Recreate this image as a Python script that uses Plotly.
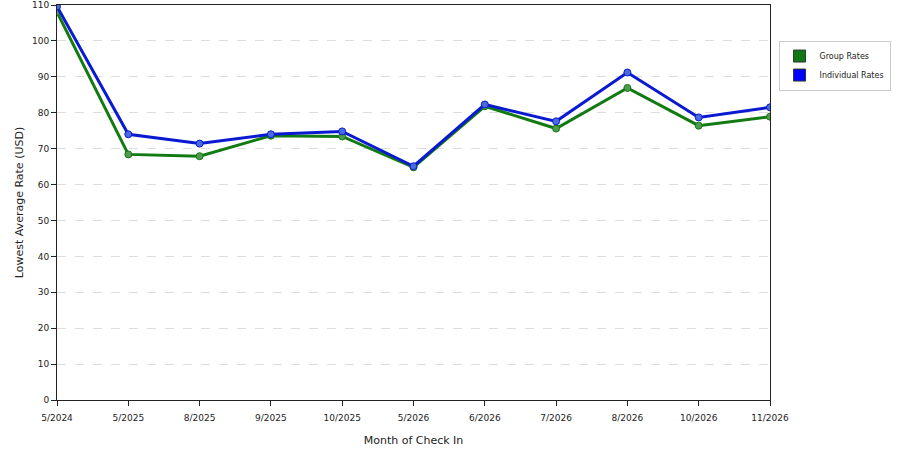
#!/usr/bin/env python3
# lowest average rate by check-in month

import plotly.graph_objects as go

# --- data ---
months = ["5/2024", "5/2025", "8/2025", "9/2025", "10/2025", "5/2026",
          "6/2026", "7/2026", "8/2026", "10/2026", "11/2026"]
group_rates = [108.0, 68.4, 67.9, 73.6, 73.4, 64.8, 81.8, 75.6, 86.9, 76.4, 78.9]
individual_rates = [109.6, 74.0, 71.4, 74.0, 74.8, 65.1, 82.3, 77.6, 91.2, 78.7, 81.5]


def main():
    fig = go.Figure()

    series = [
        ("Group Rates", group_rates, "#127a12", "#4f9a4f", "#107810"),
        ("Individual Rates", individual_rates, "#0a1ad0", "#4a6ae0", "#0000ff"),
    ]
    for name, vals, line_col, mk_col, legend_col in series:
        fig.add_trace(go.Scatter(
            x=months, y=vals, mode="lines+markers", name=name,
            line=dict(color=line_col, width=3),
            marker=dict(size=7, color=mk_col, line=dict(color=line_col, width=1)),
            showlegend=False,
        ))
        # square swatch for the legend
        fig.add_trace(go.Scatter(
            x=[None], y=[None], mode="markers", name=name,
            marker=dict(symbol="square", size=12, color=legend_col,
                        line=dict(color="#333333", width=1)),
        ))

    fig.update_layout(
        width=900, height=450,
        margin=dict(l=57, r=130, t=5, b=50, autoexpand=False),
        paper_bgcolor="white", plot_bgcolor="white",
        font=dict(family="DejaVu Sans", size=9, color="#222222"),
        legend=dict(
            x=1.012, y=0.91, xanchor="left", yanchor="top",
            bordercolor="#cccccc", borderwidth=1,
            font=dict(size=8), itemsizing="trace", itemwidth=30,
            tracegroupgap=4,
        ),
        xaxis=dict(
            title=dict(text="Month of Check In", standoff=14),
            type="category", range=[0, len(months) - 1],
            showgrid=False, showline=True, linecolor="#222222", linewidth=1,
            mirror=True, ticks="outside", ticklen=5, tickcolor="#222222",
            ticklabelstandoff=4,
            zeroline=False, automargin=False,
        ),
        yaxis=dict(
            title=dict(text="Lowest Average Rate (USD)", standoff=6),
            range=[0, 110], dtick=10,
            showgrid=True, gridcolor="#dddddd", griddash="dash",
            showline=True, linecolor="#222222", linewidth=1, mirror=True,
            ticks="outside", ticklen=5, tickcolor="#222222",
            zeroline=False, automargin=False,
        ),
    )

    # drop the default page margin so the figure sits at the window corner
    fig.write_html("out.html", config={"displayModeBar": False},
                   post_script="document.body.style.margin='0';")


if __name__ == "__main__":
    main()
